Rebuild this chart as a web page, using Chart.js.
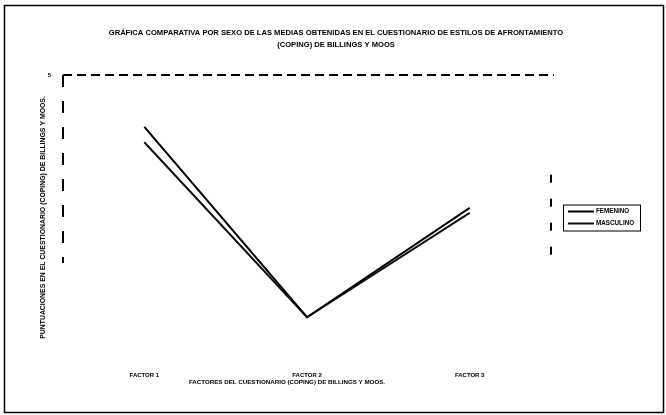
<!DOCTYPE html>
<html>
<head>
<meta charset="utf-8">
<script src="https://cdn.jsdelivr.net/npm/chart.js@4/dist/chart.umd.min.js"></script>
<style>
  html, body { margin: 0; padding: 0; background: #fff; }
  #wrap { width: 666px; height: 415px; position: relative; }
</style>
</head>
<body>
<div id="wrap"><canvas id="c" width="666" height="415"></canvas></div>
<script>
// Factores del cuestionario (eje X)
const categories = ['FACTOR 1', 'FACTOR 2', 'FACTOR 3'];
// Medias por sexo
const femenino  = [4.09, 0.75, 2.67];
const masculino = [3.82, 0.75, 2.58];
const seriesNames = ['FEMENINO', 'MASCULINO'];
// Escala del eje Y
const yMin = 0, yMax = 5, yStep = 1;

const titleLines = ['GRÁFICA COMPARATIVA POR SEXO DE LAS MEDIAS OBTENIDAS EN EL CUESTIONARIO DE ESTILOS DE AFRONTAMIENTO',
                    '(COPING) DE BILLINGS Y MOOS'];
const xTitle = 'FACTORES DEL CUESTIONARIO (COPING) DE BILLINGS Y MOOS.';
const yTitle = 'PUNTUACIONES EN EL CUESTIONARIO (COPING) DE BILLINGS Y MOOS.';

const FONT = '"Liberation Sans", Arial, sans-serif';

// Page frame, titles, dashed plot-area edges and boxed legend
const framePlugin = {
  id: 'frame',
  afterDraw(chart) {
    const ctx = chart.ctx;
    const a = chart.chartArea;
    ctx.save();
    // page border
    ctx.strokeStyle = '#000';
    ctx.lineWidth = 1.5;
    ctx.strokeRect(4.5, 5.5, chart.width - 7, chart.height - 8);

    // chart title, centred on the page
    ctx.fillStyle = '#000';
    ctx.textAlign = 'center';
    ctx.textBaseline = 'middle';
    ctx.font = 'bold 7.6px ' + FONT;
    titleLines.forEach((t, i) => ctx.fillText(t, chart.width / 2 + 3, 33 + i * 12));

    // category axis title
    ctx.font = 'bold 6.2px ' + FONT;
    ctx.fillText(xTitle, (a.left + a.right) / 2 - 20, a.bottom + 22);

    // plot-area edges (top, left, right), broken dashes
    ctx.strokeStyle = '#000';
    ctx.lineWidth = 2;
    ctx.setLineDash([9, 5]);
    ctx.beginPath();
    ctx.moveTo(a.left, a.top); ctx.lineTo(a.right + 3, a.top);
    ctx.stroke();
    ctx.setLineDash([12, 14]);
    ctx.beginPath();
    ctx.moveTo(a.left, a.top); ctx.lineTo(a.left, a.top + (a.bottom - a.top) * 0.66);
    ctx.stroke();
    ctx.setLineDash([8, 16]);
    ctx.beginPath();
    ctx.moveTo(a.right, a.top + (a.bottom - a.top) * 0.35); ctx.lineTo(a.right, a.top + (a.bottom - a.top) * 0.66);
    ctx.stroke();
    ctx.setLineDash([]);

    // legend box
    const lx = a.right + 12, midY = (a.top + a.bottom) / 2;
    const rowH = 12, boxW = 77, boxH = 26;
    const ly = midY - boxH / 2;
    ctx.lineWidth = 1;
    ctx.strokeRect(lx + 0.5, ly + 0.5, boxW, boxH);
    ctx.font = 'bold 6.3px ' + FONT;
    ctx.textAlign = 'left';
    chart.data.datasets.forEach((ds, i) => {
      const y = ly + 7 + i * rowH;
      ctx.strokeStyle = ds.borderColor;
      ctx.lineWidth = ds.borderWidth;
      ctx.beginPath();
      ctx.moveTo(lx + 5, y); ctx.lineTo(lx + 31, y);
      ctx.stroke();
      ctx.fillText(ds.label, lx + 33, y);
    });
    ctx.restore();
  }
};

new Chart(document.getElementById('c'), {
  type: 'line',
  data: {
    labels: categories,
    datasets: [
      { label: seriesNames[0], data: femenino, borderColor: '#000', borderWidth: 2, pointRadius: 0, tension: 0 },
      { label: seriesNames[1], data: masculino, borderColor: '#111', borderWidth: 2, pointRadius: 0, tension: 0 }
    ]
  },
  options: {
    responsive: false,
    animation: false,
    layout: { padding: { left: 30, right: 115, top: 75, bottom: 25 } },
    plugins: {
      legend: { display: false },
      tooltip: { enabled: false },
      title: { display: false }
    },
    scales: {
      x: {
        offset: true,
        grid: { display: false },
        border: { display: false },
        ticks: { color: '#000', padding: 4, font: { family: FONT, size: 6, weight: 'bold' } },
        title: { display: false },
        afterFit(scale) { scale.height = 30; }
      },
      y: {
        min: yMin, max: yMax,
        grid: { display: false },
        border: { display: false },
        ticks: {
          stepSize: yStep,
          color: '#000',
          padding: 4,
          font: { family: FONT, size: 6, weight: 'bold' },
          callback: (v) => (v === yMax ? v : '')
        },
        title: {
          display: true,
          text: yTitle,
          color: '#000',
          font: { family: FONT, size: 6.9, weight: 'bold' },
          padding: { top: 9, bottom: 0 }
        },
        afterFit(scale) { scale.width = 33; }
      }
    }
  },
  plugins: [framePlugin]
});
</script>
</body>
</html>
